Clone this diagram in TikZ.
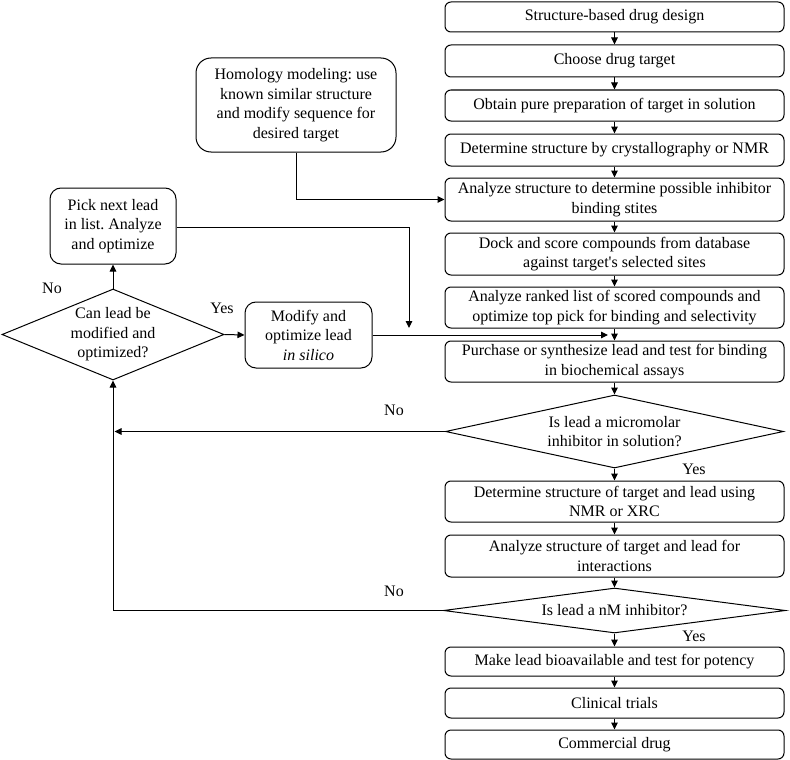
\documentclass[tikz,border=0pt]{standalone}
\usepackage{fontspec}
\setmainfont{Liberation Serif}
\usetikzlibrary{arrows.meta,shapes.geometric}
\frenchspacing
\tikzset{
  every node/.style={font=\fontsize{16}{19.5}\selectfont},
  box/.style={draw,line width=1pt,rounded corners=6pt,minimum width=339pt,inner sep=0pt,align=center},
  sidebox/.style={draw,line width=1pt,rounded corners=11pt,inner sep=0pt,align=center},
  decision/.style={draw,line width=1pt,shape=diamond,inner sep=0pt,align=center},
  link/.style={line width=1pt,-{Triangle[length=7pt,width=6.5pt]}},
  lbl/.style={inner sep=0pt}
}
\begin{document}
\begin{tikzpicture}[x=1pt,y=-1pt]
\useasboundingbox (0,0) rectangle (790,760);
% main column
\node[box,minimum height=30pt] (b1) at (614.5,17) {Structure-based drug design};
\node[box,minimum height=32pt] (b2) at (614.5,61) {Choose drug target};
\node[box,minimum height=31pt] (b3) at (614.5,105.5) {Obtain pure preparation of target in solution};
\node[box,minimum height=32pt] (b4) at (614.5,150) {Determine structure by crystallography or NMR};
\node[box,minimum height=43pt] (b5) at (614.5,199.5) {Analyze structure to determine possible inhibitor\\binding stites};
\node[box,minimum height=42pt] (b6) at (614.5,254) {Dock and score compounds from database\\against target\textquotesingle s selected sites};
\node[box,minimum height=41pt] (b7) at (614.5,307.5) {Analyze ranked list of scored compounds and\\optimize top pick for binding and selectivity};
\node[box,minimum height=41pt] (b8) at (614.5,361.5) {Purchase or synthesize lead and test for binding\\in biochemical assays};
\node[decision,minimum width=338pt,minimum height=73pt,aspect=4.63] (d1) at (614.5,431.5) {Is lead a micromolar\\inhibitor in solution?};
\node[box,minimum height=41pt] (b9) at (614.5,501.5) {Determine structure of target and lead using\\NMR or XRC};
\node[box,minimum height=42pt] (b10) at (614.5,556) {Analyze structure of target and lead for\\interactions};
\node[decision,minimum width=342pt,minimum height=45pt,aspect=7.6] (d2) at (614.5,610.5) {Is lead a nM inhibitor?};
\node[box,minimum height=29pt] (b11) at (614.5,661.5) {Make lead bioavailable and test for potency};
\node[box,minimum height=30pt] (b12) at (614.5,703) {Clinical trials};
\node[box,minimum height=29pt] (b13) at (614.5,744.5) {Commercial drug};
% side nodes
\node[sidebox,rounded corners=15pt,minimum width=200pt,minimum height=94pt] (hom) at (296,105) {Homology modeling: use\\known similar structure\\and modify sequence for\\desired target};
\node[sidebox,minimum width=126pt,minimum height=76pt] (pick) at (113,226) {Pick next lead\\in list. Analyze\\and optimize};
\node[decision,minimum width=222pt,minimum height=91pt,aspect=2.44] (cd) at (113,334.5) {Can lead be\\modified and\\optimized?};
\node[sidebox,minimum width=127pt,minimum height=66pt] (mod) at (308.5,335) {Modify and\\optimize lead\\\textit{in silico}};
% free ends
\coordinate (pickend) at (409,328);
\coordinate (modend) at (608,335);
\coordinate (noend) at (114.5,431.5);
% main flow
\foreach \a/\b in {b1/b2,b2/b3,b3/b4,b4/b5,b5/b6,b6/b7,b7/b8,b8/d1,d1/b9,b9/b10,b10/d2,d2/b11,b11/b12,b12/b13}
  \draw[link] (\a) -- (\b);
% side connectors
\draw[link] (hom.south) |- (b5.west);
\draw[link] (pick.east |- 0,227) -| (pickend);
\draw[link] (mod.east) -- (modend);
\draw[link] (d1.west) -- (noend);
\draw[link] (d2.west) -| (cd.south);
\draw[link] (cd.north) -- (pick.south);
\draw[link] (cd.east) -- (mod.west);
% labels
\node[lbl] (l1) at (52,288) {No};
\node[lbl] (l2) at (222,308) {Yes};
\node[lbl] (l3) at (394,410) {No};
\node[lbl] (l4) at (694,469) {Yes};
\node[lbl] (l5) at (394,591) {No};
\node[lbl] (l6) at (694,636) {Yes};
\end{tikzpicture}
\end{document}
